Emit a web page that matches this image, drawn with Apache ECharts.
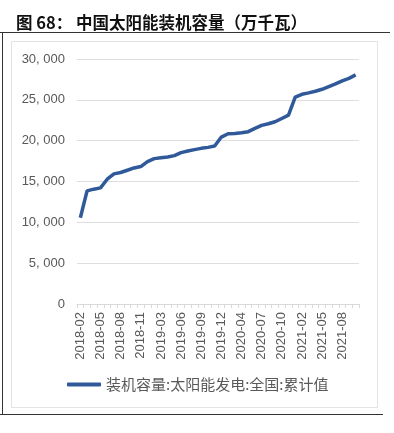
<!DOCTYPE html>
<html><head><meta charset="utf-8">
<script src="https://cdn.jsdelivr.net/npm/echarts@6/dist/echarts.min.js"></script>
<style>html,body{margin:0;padding:0;background:#fff}#c{width:394px;height:433px}</style>
</head><body><div id="c"></div>
<script>
var titleText = '图 68： 中国太阳能装机容量（万千瓦）';
var seriesName = '装机容量:太阳能发电:全国:累计值';
var categories = [
'2018-02','2018-03','2018-04','2018-05','2018-06','2018-07','2018-08','2018-09','2018-10','2018-11','2018-12',
'2019-02','2019-03','2019-04','2019-05','2019-06','2019-07','2019-08','2019-09','2019-10','2019-11','2019-12',
'2020-02','2020-03','2020-04','2020-05','2020-06','2020-07','2020-08','2020-09','2020-10','2020-11','2020-12',
'2021-02','2021-03','2021-04','2021-05','2021-06','2021-07','2021-08','2021-09','2021-10'];
var values = [
10560,13850,14060,14220,15280,15930,16100,16380,16660,16830,17440,
17800,17900,18000,18170,18540,18730,18900,19060,19180,19340,20440,
20850,20890,20980,21100,21500,21870,22070,22320,22720,23120,25320,
25680,25850,26050,26290,26620,26950,27320,27630,28050];
var yTicks = {min:0, max:30000, interval:5000};

var chart = echarts.init(document.getElementById('c'));
chart.setOption({
  animation:false,
  title:{text:titleText,left:11,top:9,textStyle:{fontFamily:'Noto Sans CJK SC',fontSize:16.5,fontWeight:'bold',color:'#111'}},
  graphic:[
    {type:'line',shape:{x1:0,y1:32.5,x2:390,y2:32.5},style:{stroke:'#333',lineWidth:1}},
    {type:'line',shape:{x1:2.5,y1:32,x2:2.5,y2:414},style:{stroke:'#333',lineWidth:1}},
    {type:'line',shape:{x1:0,y1:414.5,x2:383,y2:414.5},style:{stroke:'#333',lineWidth:1}},
    {type:'rect',shape:{x:11.5,y:41.5,width:366,height:366},style:{fill:'none',stroke:'#e3e3e3',lineWidth:1}}
  ],
  grid:{left:77,right:35,top:59,bottom:129},
  legend:{bottom:36,left:62,itemWidth:34,itemHeight:4,icon:'roundRect',itemGap:4,
    textStyle:{fontFamily:'Noto Sans CJK SC',fontSize:15,color:'#595959'}},
  xAxis:{type:'category',data:categories,boundaryGap:true,
    axisLine:{lineStyle:{color:'#d9d9d9'}},
    axisTick:{show:true,interval:0,length:4,lineStyle:{color:'#d9d9d9'}},
    axisLabel:{interval:2,rotate:90,fontSize:13,color:'#595959',fontFamily:'Liberation Sans',margin:8}},
  yAxis:{type:'value',min:yTicks.min,max:yTicks.max,interval:yTicks.interval,
    axisLine:{show:false},axisTick:{show:false},
    splitLine:{lineStyle:{color:'#dedede'}},
    axisLabel:{fontSize:13,color:'#595959',fontFamily:'Liberation Sans',margin:12,
      formatter:function(v){return v===0?'0':v.toLocaleString('en-US').replace(',', ', ');}}},
  series:[{name:seriesName,type:'line',data:values,showSymbol:false,symbol:'none',
    lineStyle:{color:'#30599a',width:3.5},itemStyle:{color:'#30599a'}}]
});
</script></body></html>
